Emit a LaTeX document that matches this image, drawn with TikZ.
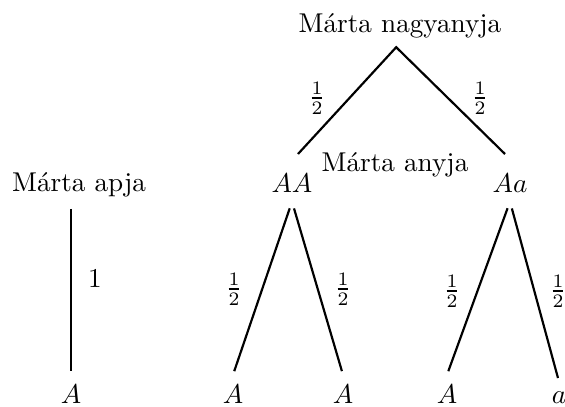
\documentclass[tikz,border=0pt]{standalone}
\usetikzlibrary{positioning}
\begin{document}
\begin{tikzpicture}[x=0.3676pt, y=-0.3676pt,
  person/.style={anchor=base},
  gene/.style={anchor=base},
  prob/.style={inner sep=1pt},
  branch/.style={thick}
]
  \useasboundingbox (0,0) rectangle (565,406);
  % grandmother and her two possible genotypes
  \node[person] (gm) at (400,32) {Márta nagyanyja};
  \coordinate (gmL) at (298,154);
  \coordinate (gmR) at (505,154);
  \draw[branch] (gmL) -- ([xshift=-1.4pt]gm.south) -- (gmR);
  \node[prob] (pgmL) at (317,98) {$\frac{1}{2}$};
  \node[prob] (pgmR) at (480,98) {$\frac{1}{2}$};
  \node[person] (ma) at (395,171) {Márta anyja};
  \node[gene] (mAA) at (292,192) {$AA$};
  \node[gene] (mAa) at (510,192) {$Aa$};
  % father
  \node[person] (fa) at (79,191) {Márta apja};
  \node[gene] (fA) at (71,403) {$A$};
  \draw[branch, shorten <=1pt, shorten >=1.3pt] (fA.north |- fa.south) -- (fA.north);
  \node[prob] (pfa) at (95,279) {$1$};
  % alleles passed on by the mother
  \node[gene] (l1) at (233,403) {$A$};
  \node[gene] (l2) at (343,403) {$A$};
  \node[gene] (l3) at (447,403) {$A$};
  \node[gene] (l4) at (559,403) {$a$};
  \draw[branch, shorten <=2.6pt, shorten >=1.4pt] (mAA.south) -- (l1.north);
  \draw[branch, shorten <=2.6pt, shorten >=1.4pt] (mAA.south) -- (l2.north);
  \draw[branch, shorten <=2.6pt, shorten >=1.4pt] (mAa.south) -- (l3.north);
  \draw[branch, shorten <=2.6pt, shorten >=1.4pt] (mAa.south) -- (l4.north);
  \node[prob] (p1) at (234,289) {$\frac{1}{2}$};
  \node[prob] (p2) at (343,289) {$\frac{1}{2}$};
  \node[prob] (p3) at (452,291) {$\frac{1}{2}$};
  \node[prob] (p4) at (558,291) {$\frac{1}{2}$};
\end{tikzpicture}
\end{document}
